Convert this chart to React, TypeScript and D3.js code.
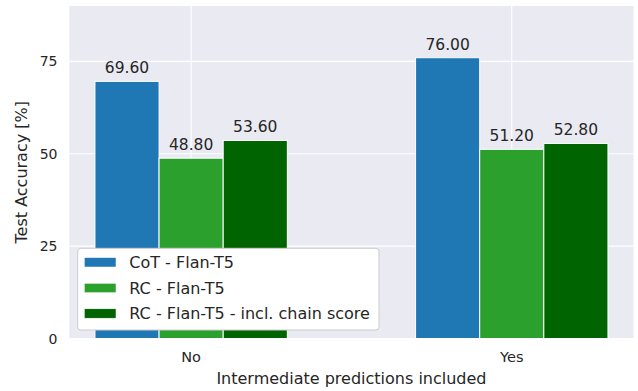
import React from "react";
import * as d3 from "d3";

const categories = ["No", "Yes"];
const seriesNames = ["CoT - Flan-T5", "RC - Flan-T5", "RC - Flan-T5 - incl. chain score"];
const cotValues = [69.6, 76.0];
const rcValues = [48.8, 51.2];
const rcChainValues = [53.6, 52.8];
const seriesColors = ["#1f77b4", "#2ca02c", "#006400"];
const yTicks = [0, 25, 50, 75];

const W = 638;
const H = 391;
const margin = { left: 69.3, right: 4.4, top: 6, bottom: 52.5 };
const FONT = "'DejaVu Sans', sans-serif";
const TXT = "#262626";

export default function App() {
  const series = [cotValues, rcValues, rcChainValues];
  const barW = 0.2;
  const x = d3.scaleLinear().domain([-0.38, 1.38]).range([margin.left, W - margin.right]);
  const y = d3.scaleLinear().domain([0, 90]).range([H - margin.bottom, margin.top]);
  const x0 = x.range()[0], x1 = x.range()[1];
  const y0 = y.range()[0], y1 = y.range()[1];

  const legX = 77.7, legY = 248.3, legW = 301.3, legH = 81.7;
  const rowYs = [262.3, 288, 313.5];

  return (
    <svg width={W} height={H} style={{ position: "absolute", left: 0, top: 0, fontFamily: FONT }}>
      <rect x={0} y={0} width={W} height={H} fill="#ffffff" />
      <rect x={x0} y={y1} width={x1 - x0} height={y0 - y1} fill="#eaeaf2" />
      {yTicks.map((t) => (
        <line key={"gy" + t} x1={x0} x2={x1} y1={y(t)} y2={y(t)} stroke="#ffffff" strokeWidth={1.1} />
      ))}
      {categories.map((c, i) => (
        <line key={"gx" + c} x1={x(i)} x2={x(i)} y1={y1} y2={y0} stroke="#ffffff" strokeWidth={1.1} />
      ))}
      {series.map((vals, s) =>
        vals.map((v, i) => {
          const cx = i + (s - 1) * barW;
          const left = x(cx - barW / 2);
          const right = x(cx + barW / 2);
          return (
            <g key={`b${s}-${i}`}>
              <rect x={left} y={y(v)} width={right - left} height={y(0) - y(v)} fill={seriesColors[s]} stroke="#ffffff" strokeWidth={1} />
              <text x={(left + right) / 2} y={y(v) - 8} textAnchor="middle" fontSize={15.5} fill={TXT}>
                {v.toFixed(2)}
              </text>
            </g>
          );
        })
      )}
      {yTicks.map((t) => (
        <text key={"ty" + t} x={57.5} y={y(t)} dy="0.36em" textAnchor="end" fontSize={14} fill={TXT}>
          {t}
        </text>
      ))}
      {categories.map((c, i) => (
        <text key={"tx" + c} x={x(i)} y={362} textAnchor="middle" fontSize={14.5} fill={TXT}>
          {c}
        </text>
      ))}
      <text x={(x0 + x1) / 2} y={384} textAnchor="middle" fontSize={16} fill={TXT}>
        Intermediate predictions included
      </text>
      <text transform={`translate(27,${(y0 + y1) / 2}) rotate(-90)`} textAnchor="middle" fontSize={16} fill={TXT}>
        Test Accuracy [%]
      </text>
      <rect x={legX} y={legY} width={legW} height={legH} rx={3} fill="#ffffff" stroke="#cccccc" strokeWidth={1} />
      {seriesNames.map((n, s) => (
        <g key={"l" + s}>
          <rect x={84.3} y={rowYs[s] - 4.7} width={31.7} height={9.4} fill={seriesColors[s]} stroke="#ffffff" strokeWidth={0.5} />
          <text x={129.3} y={rowYs[s]} dy="0.36em" fontSize={16} fill={TXT}>
            {n}
          </text>
        </g>
      ))}
    </svg>
  );
}
